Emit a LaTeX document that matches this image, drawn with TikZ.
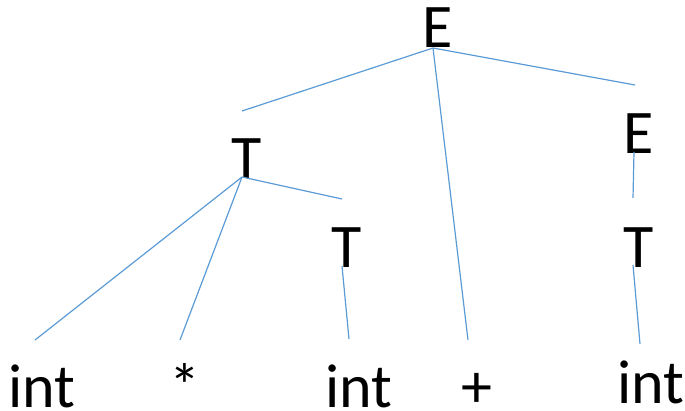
\documentclass[tikz,border=0pt]{standalone}
\usepackage{fontspec}
\setmainfont{Carlito}
\usepackage{xcolor}
\usepackage{tikz}
\usetikzlibrary{positioning}
\definecolor{treeblue}{HTML}{5B9BD5}

\begin{document}
\begin{tikzpicture}[
    x=1pt, y=-1pt,
    sym/.style={inner sep=0pt, anchor=base,
                font=\fontsize{62}{62}\selectfont},
    edge/.style={draw=treeblue, line width=1.2pt}
  ]
  \useasboundingbox (0,0) rectangle (685,410);

  % nodes
  \node[sym] (e1) at (438,47) {E};
  \node[sym] (t1) at (247,178) {T};
  \node[sym] (e2) at (639,153) {E};
  \node[sym] (t2) at (347,267) {T};
  \node[sym] (t3) at (639,267) {T};
  \node[sym] (int1) at (42,407) {int};
  \node[sym] (star) at (185,407) {*};
  \node[sym] (int2) at (359,407) {int};
  \node[sym] (plus) at (477,407) {+};
  \node[sym] (int3) at (651,403) {int};

  % ends of the arcs
  \coordinate (e1b) at (433,48);
  \coordinate (t1b) at (242,177);
  \coordinate (t2b) at (342,266);
  \coordinate (e2b) at (634,152);
  \coordinate (t3b) at (633,265);
  \coordinate (t1a) at (242,111);
  \coordinate (e2a) at (635,85);
  \coordinate (plusa) at (468,340);
  \coordinate (int1a) at (35,340);
  \coordinate (stara) at (180,340);
  \coordinate (t2a) at (342,199);
  \coordinate (int2a) at (349,339);
  \coordinate (t3a) at (633,198);
  \coordinate (int3a) at (640,344);

  % arcs
  \draw[edge] (e1b) -- (t1a);
  \draw[edge] (e1b) -- (e2a);
  \draw[edge] (e1b) -- (plusa);
  \draw[edge] (t1b) -- (int1a);
  \draw[edge] (t1b) -- (stara);
  \draw[edge] (t1b) -- (t2a);
  \draw[edge] (t2b) -- (int2a);
  \draw[edge] (e2b) -- (t3a);
  \draw[edge] (t3b) -- (int3a);
\end{tikzpicture}
\end{document}
